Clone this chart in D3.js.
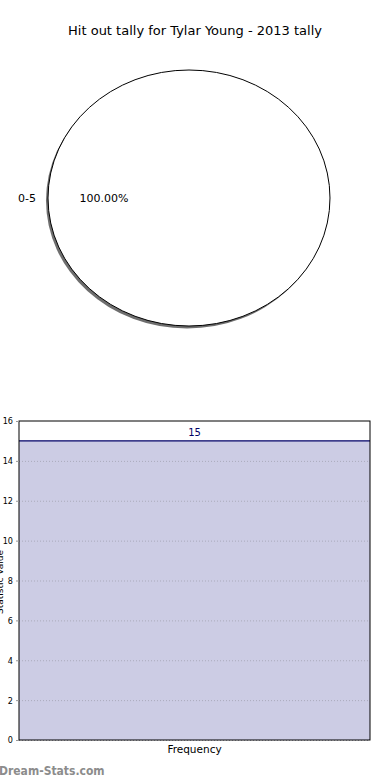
<!DOCTYPE html>
<html>
<head>
<meta charset="utf-8">
<script src="https://cdn.jsdelivr.net/npm/d3@7"></script>
<style>
body { margin: 0; background: #fff; }
text { font-family: "DejaVu Sans", sans-serif; }
</style>
</head>
<body>
<script>
"use strict";

(function() {

// chart data
let pieLabels = ['0-5'];
let pieValues = [15];
let barCategories = ['Frequency'];
let barValues = [15];
let yTicks = [0, 2, 4, 6, 8, 10, 12, 14, 16];
let title = 'Hit out tally for Tylar Young - 2013 tally';

let width = 390;
let height = 780;

let svg = d3.select('body')
    .append('svg')
    .attr('width', width)
    .attr('height', height);

svg.append('text')
    .attr('x', 195)
    .attr('y', 35)
    .attr('text-anchor', 'middle')
    .style('font-size', '13px')
    .text(title);

// pie, squashed into an ellipse like the original
let cx = 189, cy = 198, rx = 141, ry = 128;
let pie = d3.pie().sort(null)(pieValues);
let arc = d3.arc().innerRadius(0).outerRadius(1);
let total = d3.sum(pieValues);

let shadow = svg.append('g')
    .attr('transform', 'translate(' + (cx - 2) + ',' + (cy + 2.5) + ') scale(' + rx + ',' + ry + ')');
shadow.selectAll('path')
    .data(pie)
    .enter()
    .append('path')
    .attr('d', arc)
    .attr('fill', '#555')
    .attr('opacity', 0.85);

let pieG = svg.append('g')
    .attr('transform', 'translate(' + cx + ',' + cy + ') scale(' + rx + ',' + ry + ')');
pieG.selectAll('path')
    .data(pie)
    .enter()
    .append('path')
    .attr('d', arc)
    .attr('fill', '#fff')
    .attr('stroke', '#000')
    .attr('stroke-width', 1)
    .attr('vector-effect', 'non-scaling-stroke');

svg.selectAll('.plabel')
    .data(pie)
    .enter()
    .append('text')
    .attr('class', 'plabel')
    .attr('x', 27)
    .attr('y', cy + 4)
    .attr('text-anchor', 'middle')
    .style('font-size', '11px')
    .text(function(d, i) { return pieLabels[i]; });

svg.selectAll('.ppct')
    .data(pie)
    .enter()
    .append('text')
    .attr('class', 'ppct')
    .attr('x', 104)
    .attr('y', cy + 4)
    .attr('text-anchor', 'middle')
    .style('font-size', '11px')
    .text(function(d) { return (d.value / total * 100).toFixed(2) + '%'; });

// bar chart
let left = 19, right = 370, top = 421, bottom = 740;

let x = d3.scaleBand()
    .domain(barCategories)
    .range([left, right])
    .padding(0);

let y = d3.scaleLinear()
    .domain([0, 16])
    .range([bottom, top]);

svg.selectAll('.bar')
    .data(barValues)
    .enter()
    .append('rect')
    .attr('class', 'bar')
    .attr('x', function(d, i) { return x(barCategories[i]); })
    .attr('y', function(d) { return y(d); })
    .attr('width', x.bandwidth())
    .attr('height', function(d) { return bottom - y(d); })
    .attr('fill', '#cccce4');

svg.selectAll('.bartop')
    .data(barValues)
    .enter()
    .append('line')
    .attr('x1', left)
    .attr('x2', right)
    .attr('y1', function(d) { return y(d); })
    .attr('y2', function(d) { return y(d); })
    .attr('stroke', '#000066')
    .attr('stroke-width', 1.2);

let grid = svg.append('g');
grid.selectAll('line')
    .data(yTicks.filter(function(t) { return t > 0 && t < 16; }).concat([0]))
    .enter()
    .append('line')
    .attr('x1', left)
    .attr('x2', right)
    .attr('y1', function(d) { return y(d) + 0.5; })
    .attr('y2', function(d) { return y(d) + 0.5; })
    .attr('stroke', '#aaaabb')
    .attr('stroke-dasharray', '1,2');

svg.append('rect')
    .attr('x', left)
    .attr('y', top)
    .attr('width', right - left)
    .attr('height', bottom - top)
    .attr('fill', 'none')
    .attr('stroke', '#000')
    .attr('stroke-width', 1);

let yAxis = svg.append('g')
    .attr('transform', 'translate(' + left + ',0)')
    .call(d3.axisLeft(y).tickValues(yTicks).tickSize(3).tickPadding(3));
yAxis.select('.domain').remove();
yAxis.selectAll('.tick line').attr('stroke', '#999');
yAxis.selectAll('text')
    .style('font-family', '"Liberation Sans Narrow", "DejaVu Sans Condensed", sans-serif')
    .style('font-size', '9px')
    .attr('fill', '#000');

svg.selectAll('.barval')
    .data(barValues)
    .enter()
    .append('text')
    .attr('class', 'barval')
    .attr('x', function(d, i) { return x(barCategories[i]) + x.bandwidth() / 2; })
    .attr('y', function(d) { return y(d) - 5; })
    .attr('text-anchor', 'middle')
    .attr('fill', '#000066')
    .style('font-size', '10px')
    .text(function(d) { return d; });

svg.append('text')
    .attr('x', x(barCategories[0]) + x.bandwidth() / 2)
    .attr('y', 753)
    .attr('text-anchor', 'middle')
    .style('font-size', '10.5px')
    .text(barCategories[0]);

svg.append('text')
    .attr('transform', 'translate(3,582) rotate(-90)')
    .attr('text-anchor', 'middle')
    .style('font-size', '9px')
    .text('Statistic Value');

svg.append('text')
    .attr('x', -1)
    .attr('y', 775)
    .attr('fill', '#8c8c8c')
    .style('font-family', '"DejaVu Sans Condensed", sans-serif')
    .style('font-size', '12px')
    .style('font-weight', 'bold')
    .text('Dream-Stats.com');

})();
</script>
</body>
</html>
